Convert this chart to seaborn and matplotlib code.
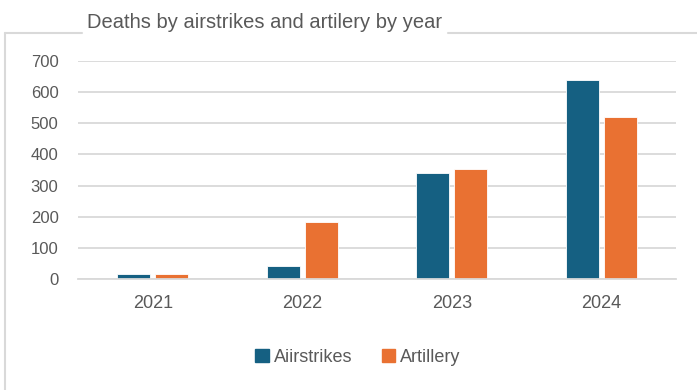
import matplotlib
matplotlib.use("Agg")
import matplotlib.pyplot as plt
import seaborn as sns
import pandas as pd
from matplotlib.lines import Line2D

years = ["2021", "2022", "2023", "2024"]
airstrikes = [15, 40, 340, 639]
artillery = [15, 183, 353, 521]
series_names = ["Aiirstrikes", "Artillery"]
yticks = [0, 100, 200, 300, 400, 500, 600, 700]
title = "Deaths by airstrikes and artilery by year"

df = pd.DataFrame({
    "year": years * 2,
    "value": airstrikes + artillery,
    "series": [series_names[0]] * len(years) + [series_names[1]] * len(years),
})

sns.set_theme(style="white")
plt.rcParams['font.family'] = ['Liberation Sans', 'DejaVu Sans']
TXT = "#595959"
GRID = "#D9D9D9"
palette = {series_names[0]: "#156082", series_names[1]: "#E97132"}

fig = plt.figure(figsize=(6.97, 3.90), dpi=100)
ax = fig.add_axes([78/697, 1-278.7/390, (676-78)/697, (278.7-61.3)/390])

sns.barplot(data=df, x="year", y="value", hue="series", palette=palette,
            width=0.51, gap=0.13, ax=ax, legend=False, saturation=1,
            edgecolor="white", linewidth=0.6)

ax.set_ylim(0, 700)
ax.set_xlim(-0.5, 3.5)
ax.set_yticks(yticks)
ax.set_yticklabels([str(v) for v in yticks])
ax.yaxis.grid(True, color=GRID, linewidth=1.3)
ax.set_axisbelow(True)
for s in ["top", "right", "left"]:
    ax.spines[s].set_visible(False)
ax.spines["bottom"].set_color(GRID)
ax.spines["bottom"].set_linewidth(1.3)
ax.set_xlabel("")
ax.set_ylabel("")
ax.tick_params(axis="y", length=0, pad=14, labelsize=12, labelcolor=TXT)
ax.tick_params(axis="x", length=0, pad=12, labelsize=13, labelcolor=TXT)

# frame with title gap
fig.add_artist(Line2D([5/697, 5/697], [0, 1-33/390], transform=fig.transFigure, color=GRID, lw=1.5))
fig.add_artist(Line2D([5/697, 82/697], [1-33/390, 1-33/390], transform=fig.transFigure, color=GRID, lw=1.5))
fig.add_artist(Line2D([448/697, 1], [1-33/390, 1-33/390], transform=fig.transFigure, color=GRID, lw=1.5))

fig.text(265/697, 1-23/390, title, ha="center", va="center", fontsize=14.5, color=TXT)

handles = [plt.Rectangle((0, 0), 1, 1, color=palette[n]) for n in series_names]
leg = fig.legend(handles, series_names, loc="center", bbox_to_anchor=(358/697, 1-357/390),
                 ncol=2, frameon=False, fontsize=13, handlelength=0.75, handleheight=0.75,
                 handletextpad=0.3, columnspacing=1.6)
for t in leg.get_texts():
    t.set_color(TXT)

fig.savefig("out.png", dpi=100)
